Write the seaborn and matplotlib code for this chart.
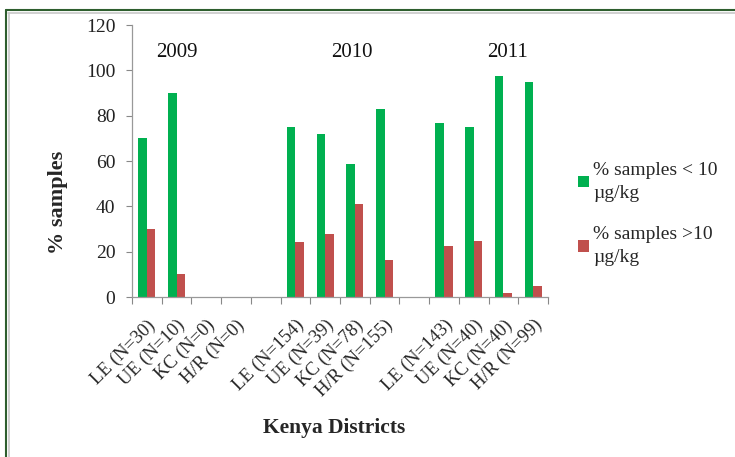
import pandas as pd
import seaborn as sns
import matplotlib.pyplot as plt
from matplotlib.lines import Line2D
from matplotlib.patches import Patch

# categories (blank slots separate the three years)
districts = ["LE (N=30)", "UE (N=10)", "KC (N=0)", "H/R (N=0)", " ",
             "LE (N=154)", "UE (N=39)", "KC (N=78)", "H/R (N=155)", "  ",
             "LE (N=143)", "UE (N=40)", "KC (N=40)", "H/R (N=99)"]
tick_labels = [d.strip() for d in districts]
below_10 = [70, 90, 0, 0, 0, 75, 72, 58.5, 83, 0, 77, 75, 97.5, 95]
above_10 = [30, 10, 0, 0, 0, 24.5, 28, 41, 16.5, 0, 22.5, 24.7, 2, 5]
years = ["2009", "2010", "2011"]
year_pos = [1.0, 6.9, 12.15]

series = ["% samples < 10 µg/kg", "% samples >10 µg/kg"]
legend_labels = ["% samples < 10\nµg/kg", "% samples >10\nµg/kg"]
colors = ["#00B050", "#C0504D"]

df = pd.DataFrame({
    "district": districts * 2,
    "pct": below_10 + above_10,
    "group": [series[0]] * len(districts) + [series[1]] * len(districts),
})

sns.set_theme(style="white")
plt.rcParams['font.family'] = ['Liberation Serif', 'DejaVu Serif']

fig = plt.figure(figsize=(7.35, 4.57), dpi=100)
ax = fig.add_axes([0.1796, 0.35, 0.566, 0.595])

sns.barplot(data=df, x="district", y="pct", hue="group", order=districts,
            hue_order=series, palette=colors, saturation=1, width=0.58,
            linewidth=0, errorbar=None, ax=ax, legend=False)

ax.set_ylim(0, 120)
ax.set_xlim(-0.5, len(districts) - 0.5)
ax.set_yticks(range(0, 121, 20))
ax.tick_params(axis='y', labelsize=14, length=4, width=0.8, color="#888888",
               left=True, pad=8)
ax.set_xticks(range(len(districts)))
ax.set_xticklabels(tick_labels, rotation=45, ha='right',
                   rotation_mode='anchor', fontsize=13.5)
ax.tick_params(axis='x', length=0, pad=14)
ax.set_xticks([i - 0.5 for i in range(len(districts) + 1)], minor=True)
ax.tick_params(axis='x', which='minor', length=5, width=0.8,
               color="#888888", bottom=True)
for lab in ax.get_yticklabels():
    lab.set_color("#222222")

for side in ["top", "right"]:
    ax.spines[side].set_visible(False)
for side in ["left", "bottom"]:
    ax.spines[side].set_color("#999999")
    ax.spines[side].set_linewidth(0.9)

ax.set_xlabel("")
ax.set_ylabel("")

for y, xp in zip(years, year_pos):
    ax.text(xp, 108, y, ha='center', va='center', fontsize=15,
            color="#111111")

fig.text(58 / 735, 1 - 202 / 457, "% samples", rotation=90, ha='center',
         va='center', fontsize=16, fontweight='bold')
fig.text(334 / 735, 1 - 428 / 457, "Kenya Districts", ha='center',
         va='center', fontsize=15.5, fontweight='bold')

handles = [Patch(facecolor=c, edgecolor='none') for c in colors]
leg = fig.legend(handles, legend_labels, loc='center left',
                 bbox_to_anchor=(560 / 735, 1 - 214 / 457), frameon=False,
                 fontsize=14, handlelength=0.6, handleheight=0.55,
                 handletextpad=0.2, labelspacing=1.25)
for t in leg.get_texts():
    t.set_linespacing(1.45)

# outer frame like the original screenshot
fig.add_artist(Line2D([6 / 735, 1], [1 - 10 / 457] * 2, color="#2E5E2E",
                      lw=1.5, transform=fig.transFigure))
fig.add_artist(Line2D([6 / 735] * 2, [0, 1 - 10 / 457], color="#2E5E2E",
                      lw=1.5, transform=fig.transFigure))
fig.add_artist(Line2D([8 / 735, 1], [1 - 13 / 457] * 2, color="#C8C8C8",
                      lw=1.2, transform=fig.transFigure))
fig.add_artist(Line2D([9 / 735] * 2, [0, 1 - 13 / 457], color="#C8C8C8",
                      lw=1.2, transform=fig.transFigure))

fig.savefig("out.png", dpi=100)
